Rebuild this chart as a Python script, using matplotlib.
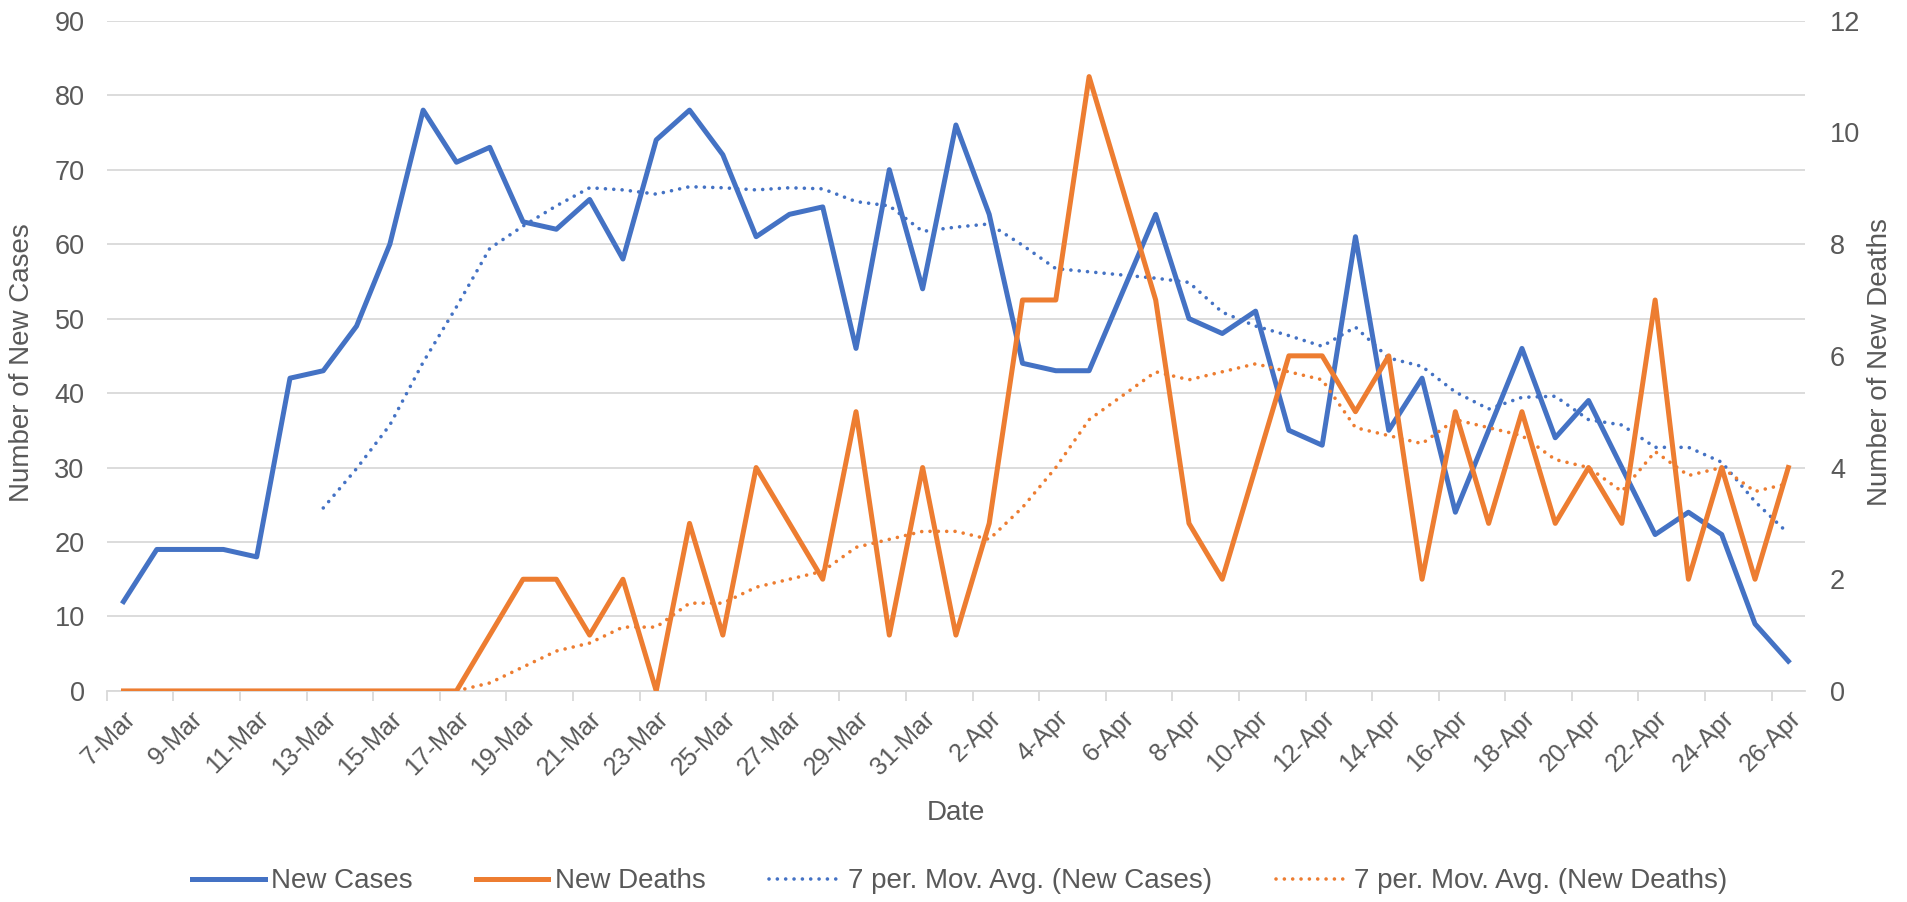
import matplotlib.pyplot as plt
import numpy as np
import pandas as pd

plt.rcParams['font.family'] = ['Liberation Sans', 'DejaVu Sans']

# Daily figures, 7-Mar to 26-Apr. 6-Apr has no entry (line is joined across it).
dates = pd.date_range('2020-03-07', '2020-04-26', freq='D')
new_cases = [12, 19, 19, 19, 18, 42, 43, 49, 60, 78,
             71, 73, 63, 62, 66, 58, 74, 78, 72, 61,
             64, 65, 46, 70, 54, 76, 64, 44, 43, 43,
             None, 64, 50, 48, 51, 35, 33, 61, 35, 42,
             24, 35, 46, 34, 39, 30, 21, 24, 21, 9, 4]
new_deaths = [0, 0, 0, 0, 0, 0, 0, 0, 0, 0,
              0, 1, 2, 2, 1, 2, 0, 3, 1, 4,
              3, 2, 5, 1, 4, 1, 3, 7, 7, 11,
              None, 7, 3, 2, 4, 6, 6, 5, 6, 2,
              5, 3, 5, 3, 4, 3, 7, 2, 4, 2, 4]
tick_labels = [f"{d.day}-{d.strftime('%b')}" for d in dates]

blue = '#4472C4'
orange = '#ED7D31'
grey = '#595959'
grid = '#D9D9D9'
fs = 20
yfs = 19.5
xfs = 18

cases = pd.Series(new_cases, dtype=float).dropna()
deaths = pd.Series(new_deaths, dtype=float).dropna()
# Excel's "7 per. Mov. Avg." trendline skips empty cells
cases_ma = cases.rolling(7).mean().dropna()
deaths_ma = deaths.rolling(7).mean().dropna()

fig = plt.figure(figsize=(19.08, 9.02), dpi=100)
ax = fig.add_axes([0.056, 0.234, 0.890, 0.743])
ax2 = ax.twinx()

dots = dict(lw=2.6, linestyle=(0, (0.01, 2.3)), dash_capstyle='round', zorder=4)
l1, = ax.plot(cases.index, cases.values, color=blue, lw=3.6, label='New Cases', zorder=3)
l3, = ax.plot(cases_ma.index, cases_ma.values, color=blue,
              label='7 per. Mov. Avg. (New Cases)', **dots)
l2, = ax2.plot(deaths.index, deaths.values, color=orange, lw=3.6, label='New Deaths', zorder=3)
l4, = ax2.plot(deaths_ma.index, deaths_ma.values, color=orange,
               label='7 per. Mov. Avg. (New Deaths)', **dots)

ax.set_xlim(-0.5, len(dates) - 0.5)
ax.set_ylim(0, 90)
ax.set_yticks(np.arange(0, 91, 10))
ax2.set_ylim(0, 12)
ax2.set_yticks(np.arange(0, 13, 2))

ax.grid(axis='y', color=grid, lw=1.3)
ax.set_axisbelow(True)
for a in (ax, ax2):
    for s in a.spines.values():
        s.set_visible(False)
ax.spines['bottom'].set_visible(True)
ax.spines['bottom'].set_color(grid)
ax.spines['bottom'].set_linewidth(1.3)

ax.set_xticks(np.arange(0, len(dates), 2))
ax.set_xticklabels(tick_labels[::2], rotation=45, ha='right', va='top',
                   rotation_mode='anchor')
ax.set_xticks(np.arange(-0.5, len(dates), 2), minor=True)
ax.tick_params(axis='x', which='major', length=0, pad=11, labelsize=xfs, labelcolor=grey)
ax.tick_params(axis='x', which='minor', length=7, width=1.3, color=grid)
ax.tick_params(axis='y', length=0, pad=16, labelsize=yfs, labelcolor=grey)
ax2.tick_params(axis='y', length=0, pad=18, labelsize=yfs, labelcolor=grey)

ax.set_xlabel('Date', fontsize=fs, color=grey, va='center')
ax.xaxis.set_label_coords(0.5, -0.182)
ax.set_ylabel('Number of New Cases', fontsize=fs, color=grey, va='center')
ax.yaxis.set_label_coords(-0.050, 0.49)
ax2.set_ylabel('Number of New Deaths', fontsize=fs, color=grey, va='center')
ax2.yaxis.set_label_coords(1.044, 0.49)

fig.legend(handles=[l1, l2, l3, l4], loc='center', bbox_to_anchor=(0.503, 0.023),
           ncol=4, frameon=False, fontsize=fs, labelcolor=grey,
           handlelength=2.6, handletextpad=0.22, columnspacing=2.3)

fig.savefig('out.png', dpi=100)
plt.close(fig)
